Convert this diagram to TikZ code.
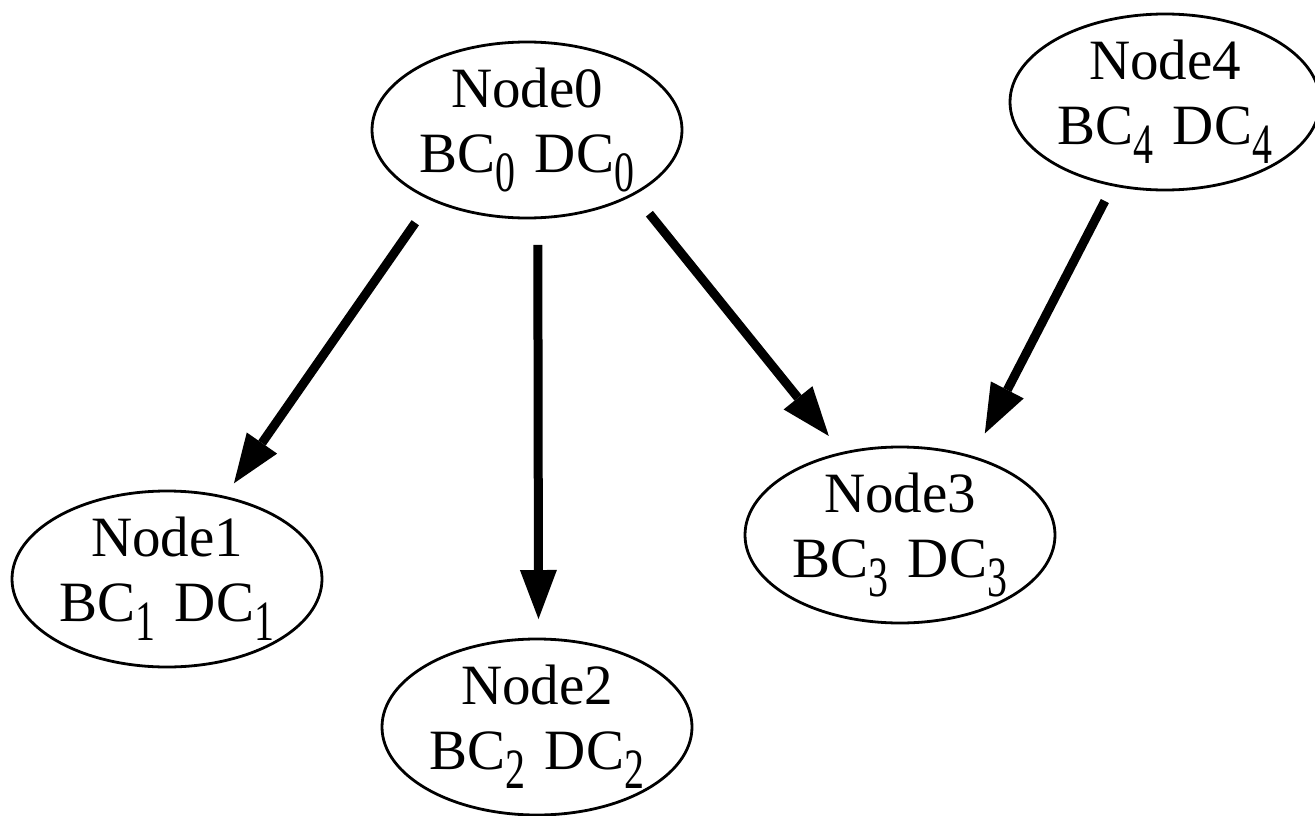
\documentclass[tikz,border=0pt]{standalone}
\usepackage{fontspec}
\setmainfont{Liberation Serif}
\usetikzlibrary{arrows.meta,shapes.geometric}
\newcommand{\subd}[1]{\raisebox{-19pt}{\scalebox{0.7}[1.0]{#1}}}
\newcommand{\bcdc}[1]{BC\subd{#1}\hspace{19pt}DC\subd{#1}}
\tikzset{
  state/.style={ellipse, draw, line width=2.8pt, minimum width=310pt, minimum height=176pt,
    inner sep=0pt, outer sep=0pt, align=center, font=\fontsize{57}{65}\selectfont},
  link/.style={line width=9pt, -{Triangle[length=49pt,width=37pt,line width=0pt]}}
}
\begin{document}
\begin{tikzpicture}[x=1pt,y=-1pt]
\useasboundingbox (0,0) rectangle (1315,816);
\node[state] (n0) at (527,130) {Node0\\\bcdc{0}};
\node[state] (n1) at (167,579) {Node1\\\bcdc{1}};
\node[state] (n2) at (537,727) {Node2\\\bcdc{2}};
\node[state] (n3) at (900,535) {Node3\\\bcdc{3}};
\node[state] (n4) at (1165,102) {Node4\\\bcdc{4}};
\draw[link, shorten <=28.5pt, shorten >=17pt] (n0.216.4) -- (n1.55.6);
\draw[link, shorten <=27.2pt, shorten >=20pt] (n0.277.14) -- (n2.89.35);
\draw[link, shorten <=25.4pt, shorten >=22.2pt] (n0.329.75) -- (n3.125.5);
\draw[link, shorten <=18.1pt, shorten >=26.75pt] (n4.238.1) -- (n3.47.97);
\end{tikzpicture}
\end{document}
